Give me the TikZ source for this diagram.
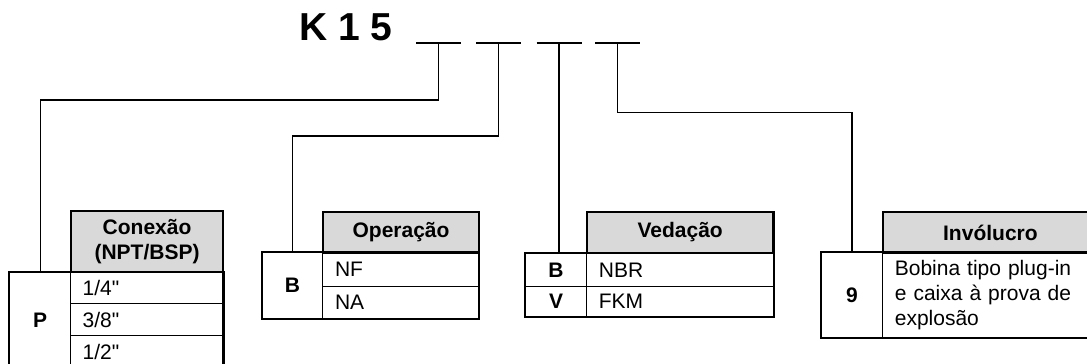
\documentclass[tikz,border=0pt]{standalone}
\usepackage{fontspec}
\setmainfont{Liberation Sans}
\usepackage{tikz}
\usetikzlibrary{positioning}

\begin{document}
\begin{tikzpicture}[
    x=1pt, y=-1pt,
    every node/.style={font=\fontsize{21}{25}\selectfont, inner sep=0pt},
    head/.style={draw, line width=2.4pt, fill=gray!30, anchor=north west, align=center, font=\fontsize{21}{25}\selectfont\bfseries},
    key/.style={draw, line width=1.3pt, anchor=north west, font=\fontsize{21}{25}\selectfont\bfseries},
    opt/.style={draw, line width=1.3pt, anchor=north west, align=left, inner xsep=12pt},
    frame/.style={line width=2.4pt},
    link/.style={line width=1.3pt},
    blank/.style={line width=2pt}
]
\useasboundingbox (0,0) rectangle (1087,364);

\node[anchor=base west, font=\fontsize{39}{41}\selectfont\bfseries] (code) at (299,40) {K 1 5};
\foreach \x [count=\i] in {438.5,498.5,559,617.5} {
    \draw[blank] ({\x-22.5},42.7) -- ({\x+22.5},42.7);
    \coordinate (d\i) at (\x,42.7);
}

% Conexao
\node[head, minimum width=152.3, minimum height=61] (headP) at (69.7,210) {Conexão\\(NPT/BSP)};
\node[key, minimum width=61, minimum height=95] (keyP) at (9,272) {P};
\node[opt, minimum width=152, minimum height=31, text width=128] (optA) at (70,272) {1/4\textquotedbl};
\node[opt, minimum width=152, minimum height=32, text width=128] (optB) at (70,303) {3/8\textquotedbl};
\node[opt, minimum width=152, minimum height=32, text width=128] (optC) at (70,335) {1/2\textquotedbl};
\draw[frame] (keyP.north west) rectangle (optC.south east);

% Operacao
\node[head, minimum width=155.7, minimum height=41.3] (headB) at (322,210.7) {Operação};
\node[key, minimum width=60.3, minimum height=65.7] (keyB) at (261.7,252) {B};
\node[opt, minimum width=155.7, minimum height=33.7, text width=131] (optNF) at (322,252) {NF};
\node[opt, minimum width=155.7, minimum height=32, text width=131] (optNA) at (322,285.7) {NA};
\draw[frame] (keyB.north west) rectangle (optNA.south east);

% Vedacao
\node[head, minimum width=186.6, minimum height=41.3] (headV) at (585.7,210.7) {Vedação};
\node[key, minimum width=60.7, minimum height=32.7] (keyNBR) at (525,253) {B};
\node[key, minimum width=60.7, minimum height=30] (keyFKM) at (525,285.7) {V};
\node[opt, minimum width=187, minimum height=32.7, text width=162] (optNBR) at (585.7,253) {NBR};
\node[opt, minimum width=187, minimum height=30, text width=162] (optFKM) at (585.7,285.7) {FKM};
\draw[frame] (keyNBR.north west) rectangle (optFKM.south east);

% Involucro
\node[head, minimum width=215, minimum height=41.3] (head9) at (881.7,210.7) {Invólucro};
\node[key, minimum width=60.7, minimum height=84.7] (key9) at (821,252) {9};
\node[opt, minimum width=215, minimum height=84.7, text width=190] (opt9) at (881.7,252) {Bobina tipo plug-in\\e caixa à prova de\\explosão};
\draw[frame] (key9.north west) rectangle (opt9.south east);

% connectors
\draw[link] (d1) -- ++(0,57.3) -| (keyP.north);
\draw[link] (d2) -- ++(0,93.3) -| (keyB.north);
\draw[link] (d3) -- (d3 |- keyNBR.north);
\draw[link] (d4) -- ++(0,70) -| (key9.north);
\end{tikzpicture}
\end{document}
